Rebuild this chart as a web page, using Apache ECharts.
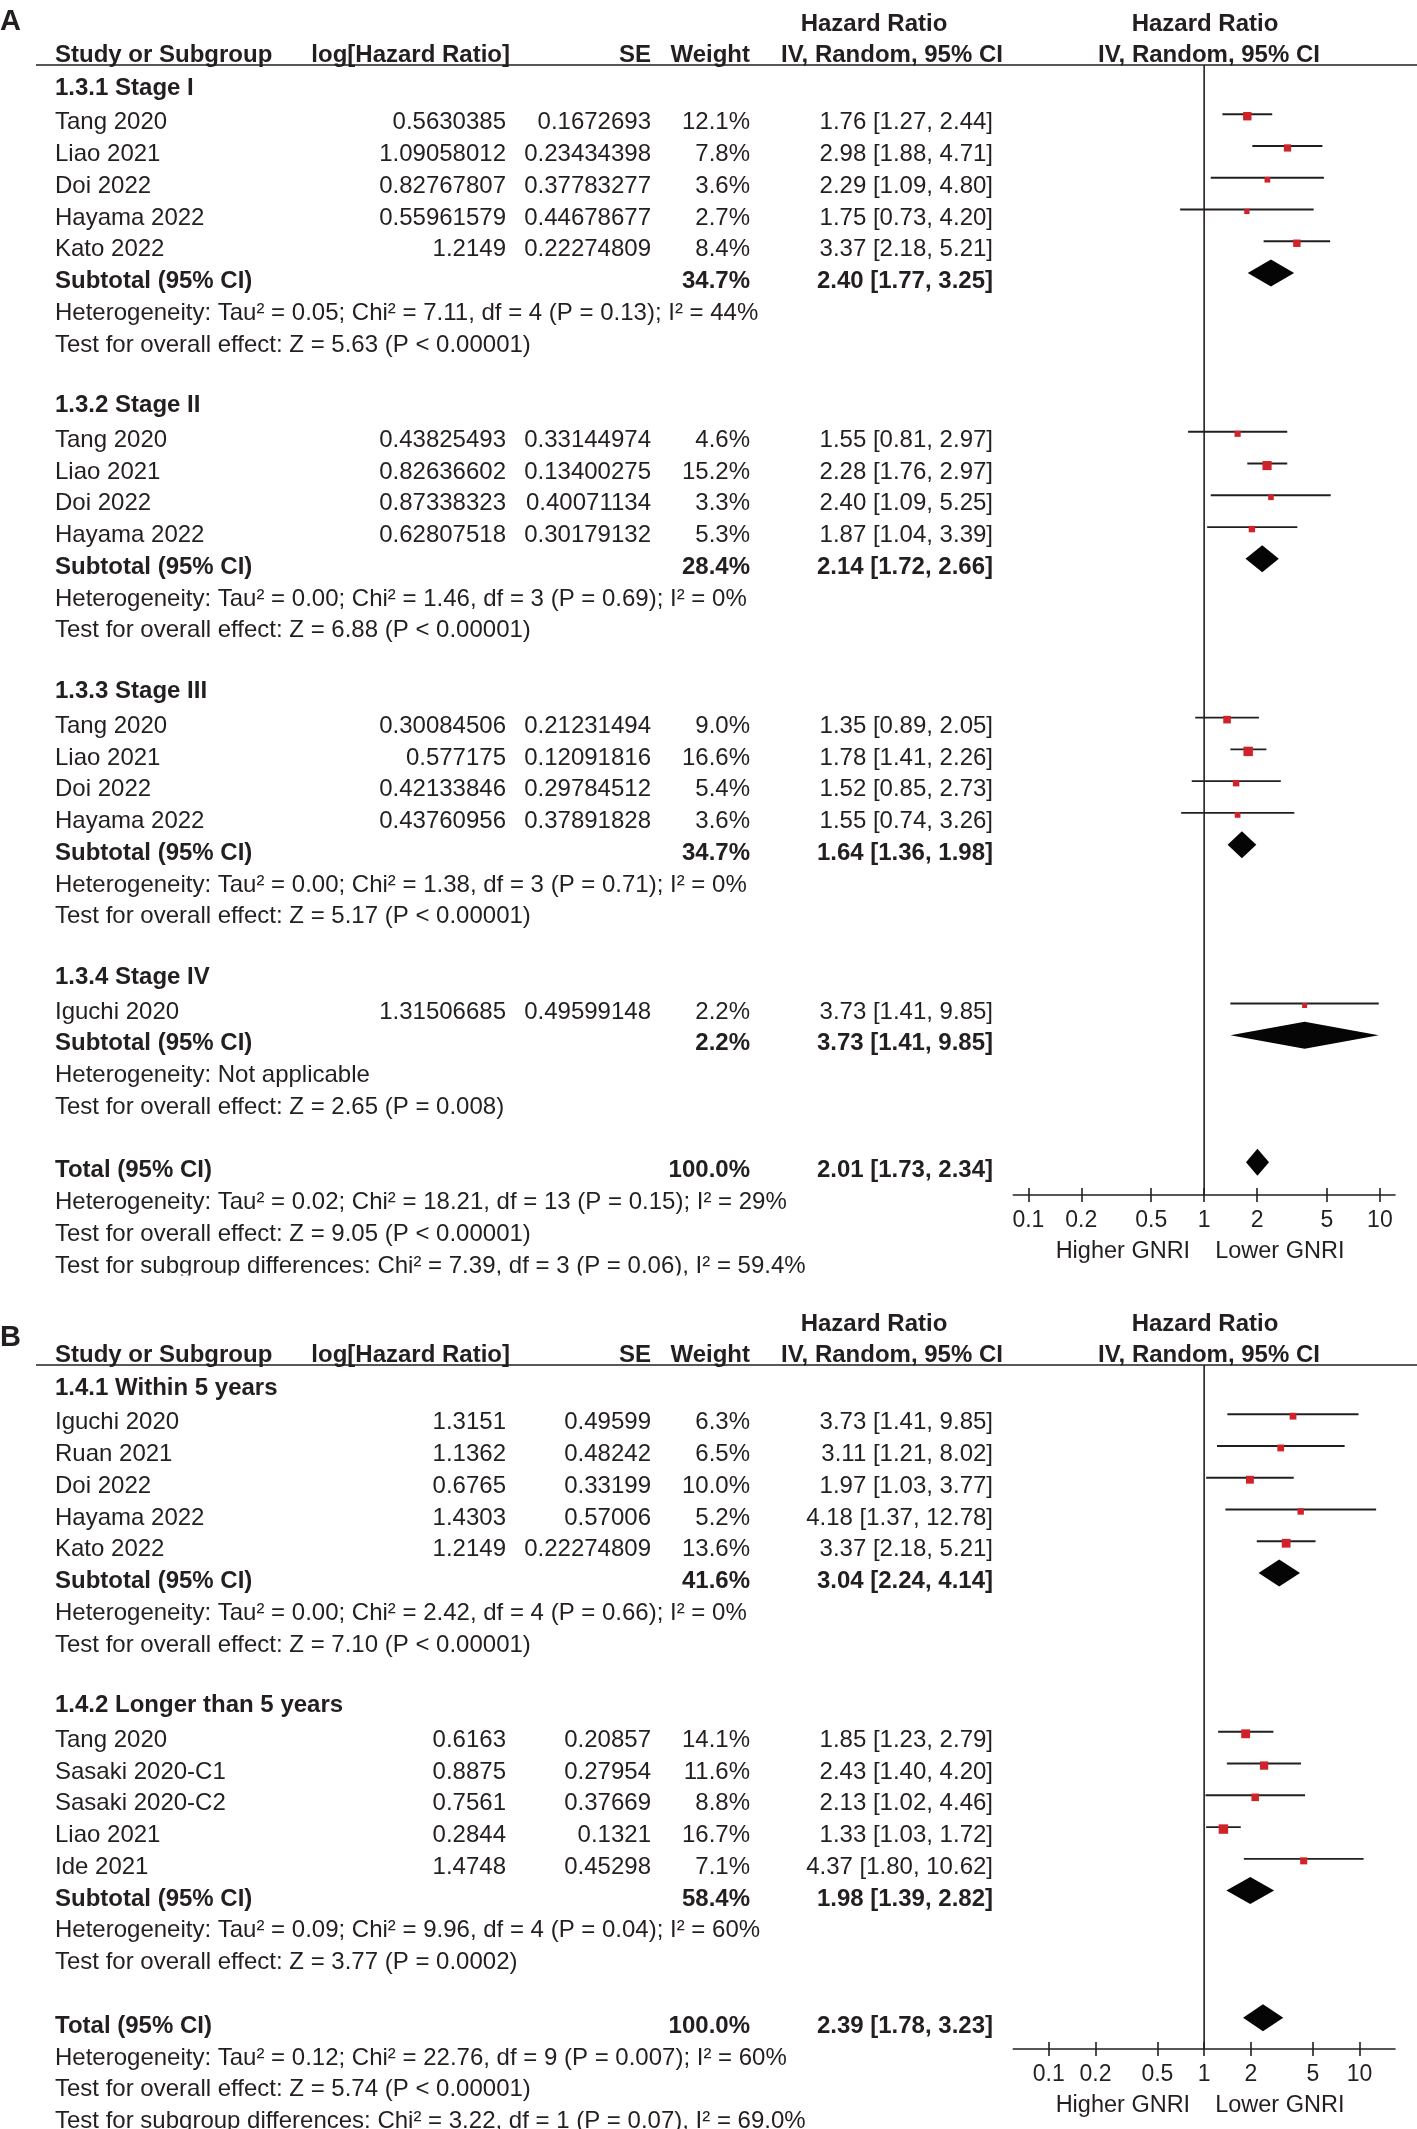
<!DOCTYPE html>
<html>
<head>
<meta charset="utf-8">
<script src="https://cdn.jsdelivr.net/npm/echarts@6/dist/echarts.min.js"></script>
<style>
html,body{margin:0;padding:0;background:#fff;}
#c{width:1417px;height:2129px;}
</style>
</head>
<body>
<div id="c"></div>
<script>
// ---------------- data ----------------
const tickValues = [0.1, 0.2, 0.5, 1, 2, 5, 10];
const tickLabels = ['0.1', '0.2', '0.5', '1', '2', '5', '10'];
const favourLabels = ['Higher GNRI', 'Lower GNRI'];
const headerTop = ['Hazard Ratio', 'Hazard Ratio'];
const headerCols = ['Study or Subgroup', 'log[Hazard Ratio]', 'SE', 'Weight', 'IV, Random, 95% CI', 'IV, Random, 95% CI'];
const panelLetters = ['A', 'B'];

// Panel A
const A_groups = ['1.3.1 Stage I', '1.3.2 Stage II', '1.3.3 Stage III', '1.3.4 Stage IV'];
const A_study = ['Tang 2020', 'Liao 2021', 'Doi 2022', 'Hayama 2022', 'Kato 2022',
                 'Tang 2020', 'Liao 2021', 'Doi 2022', 'Hayama 2022',
                 'Tang 2020', 'Liao 2021', 'Doi 2022', 'Hayama 2022',
                 'Iguchi 2020'];
const A_group = [0, 0, 0, 0, 0, 1, 1, 1, 1, 2, 2, 2, 2, 3];
const A_logHR = [0.5630385, 1.09058012, 0.82767807, 0.55961579, 1.2149,
                 0.43825493, 0.82636602, 0.87338323, 0.62807518,
                 0.30084506, 0.577175, 0.42133846, 0.43760956,
                 1.31506685];
const A_se = [0.1672693, 0.23434398, 0.37783277, 0.44678677, 0.22274809,
              0.33144974, 0.13400275, 0.40071134, 0.30179132,
              0.21231494, 0.12091816, 0.29784512, 0.37891828,
              0.49599148];
const A_weight = [12.1, 7.8, 3.6, 2.7, 8.4, 4.6, 15.2, 3.3, 5.3, 9.0, 16.6, 5.4, 3.6, 2.2];
const A_hr = [1.76, 2.98, 2.29, 1.75, 3.37, 1.55, 2.28, 2.40, 1.87, 1.35, 1.78, 1.52, 1.55, 3.73];
const A_lo = [1.27, 1.88, 1.09, 0.73, 2.18, 0.81, 1.76, 1.09, 1.04, 0.89, 1.41, 0.85, 0.74, 1.41];
const A_hi = [2.44, 4.71, 4.80, 4.20, 5.21, 2.97, 2.97, 5.25, 3.39, 2.05, 2.26, 2.73, 3.26, 9.85];
const A_subWeight = [34.7, 28.4, 34.7, 2.2];
const A_subHR = [2.40, 2.14, 1.64, 3.73];
const A_subLo = [1.77, 1.72, 1.36, 1.41];
const A_subHi = [3.25, 2.66, 1.98, 9.85];
const A_subHet = ['Tau² = 0.05; Chi² = 7.11, df = 4 (P = 0.13); I² = 44%',
                  'Tau² = 0.00; Chi² = 1.46, df = 3 (P = 0.69); I² = 0%',
                  'Tau² = 0.00; Chi² = 1.38, df = 3 (P = 0.71); I² = 0%',
                  'Not applicable'];
const A_subZ = ['Z = 5.63 (P < 0.00001)', 'Z = 6.88 (P < 0.00001)', 'Z = 5.17 (P < 0.00001)', 'Z = 2.65 (P = 0.008)'];
const A_total = [100.0, 2.01, 1.73, 2.34]; // weight, HR, lower, upper
const A_totalHet = 'Tau² = 0.02; Chi² = 18.21, df = 13 (P = 0.15); I² = 29%';
const A_totalZ = 'Z = 9.05 (P < 0.00001)';
const A_subDiff = 'Chi² = 7.39, df = 3 (P = 0.06), I² = 59.4%';

// Panel B
const B_groups = ['1.4.1 Within 5 years', '1.4.2 Longer than 5 years'];
const B_study = ['Iguchi 2020', 'Ruan 2021', 'Doi 2022', 'Hayama 2022', 'Kato 2022',
                 'Tang 2020', 'Sasaki 2020-C1', 'Sasaki 2020-C2', 'Liao 2021', 'Ide 2021'];
const B_group = [0, 0, 0, 0, 0, 1, 1, 1, 1, 1];
const B_logHR = [1.3151, 1.1362, 0.6765, 1.4303, 1.2149, 0.6163, 0.8875, 0.7561, 0.2844, 1.4748];
const B_se = [0.49599, 0.48242, 0.33199, 0.57006, 0.22274809, 0.20857, 0.27954, 0.37669, 0.1321, 0.45298];
const B_weight = [6.3, 6.5, 10.0, 5.2, 13.6, 14.1, 11.6, 8.8, 16.7, 7.1];
const B_hr = [3.73, 3.11, 1.97, 4.18, 3.37, 1.85, 2.43, 2.13, 1.33, 4.37];
const B_lo = [1.41, 1.21, 1.03, 1.37, 2.18, 1.23, 1.40, 1.02, 1.03, 1.80];
const B_hi = [9.85, 8.02, 3.77, 12.78, 5.21, 2.79, 4.20, 4.46, 1.72, 10.62];
const B_subWeight = [41.6, 58.4];
const B_subHR = [3.04, 1.98];
const B_subLo = [2.24, 1.39];
const B_subHi = [4.14, 2.82];
const B_subHet = ['Tau² = 0.00; Chi² = 2.42, df = 4 (P = 0.66); I² = 0%',
                  'Tau² = 0.09; Chi² = 9.96, df = 4 (P = 0.04); I² = 60%'];
const B_subZ = ['Z = 7.10 (P < 0.00001)', 'Z = 3.77 (P = 0.0002)'];
const B_total = [100.0, 2.39, 1.78, 3.23];
const B_totalHet = 'Tau² = 0.12; Chi² = 22.76, df = 9 (P = 0.007); I² = 60%';
const B_totalZ = 'Z = 5.74 (P < 0.00001)';
const B_subDiff = 'Chi² = 3.22, df = 1 (P = 0.07), I² = 69.0%';

// ---------------- layout / style ----------------
const FONT = '"Liberation Sans", Arial, Helvetica, sans-serif';
const FS = 24;
const INK = '#231f20';
const RED = '#cf2229';
const PITCH = 31.76;
const PLOT_L = 1013.3, PLOT_W = 381.7;
const COLX = { name: 55, logHR: 506, se: 651, weight: 750, ci: 993 };
const COLA = { name: 'left', logHR: 'right', se: 'right', weight: 'right', ci: 'right' };
const MARK_SHIFT = 8.5;

const panels = [
  { off: 0, axisY: 1195, half: 1.086, letterY: 22,
    d: { groups: A_groups, study: A_study, group: A_group, logHR: A_logHR, se: A_se, weight: A_weight,
         hr: A_hr, lo: A_lo, hi: A_hi, subW: A_subWeight, subHR: A_subHR, subLo: A_subLo, subHi: A_subHi,
         subHet: A_subHet, subZ: A_subZ, total: A_total, totalHet: A_totalHet, totalZ: A_totalZ, diff: A_subDiff } },
  { off: 1300, axisY: 2049, half: 1.228, letterY: 1338,
    d: { groups: B_groups, study: B_study, group: B_group, logHR: B_logHR, se: B_se, weight: B_weight,
         hr: B_hr, lo: B_lo, hi: B_hi, subW: B_subWeight, subHR: B_subHR, subLo: B_subLo, subHi: B_subHi,
         subHet: B_subHet, subZ: B_subZ, total: B_total, totalHet: B_totalHet, totalZ: B_totalZ, diff: B_subDiff } }
];

function ciText(h, l, u) { return h.toFixed(2) + ' [' + l.toFixed(2) + ', ' + u.toFixed(2) + ']'; }

function buildRows(d) {
  const rows = [];
  let r = 0;
  d.groups.forEach((g, gi) => {
    rows.push({ row: r++, kind: 'title', bold: true, cells: [[g, 'name']] });
    d.study.forEach((s, i) => {
      if (d.group[i] !== gi) return;
      rows.push({ row: r++, kind: 'study', cells: [[s, 'name'], [String(d.logHR[i]), 'logHR'], [String(d.se[i]), 'se'],
        [d.weight[i].toFixed(1) + '%', 'weight'], [ciText(d.hr[i], d.lo[i], d.hi[i]), 'ci']],
        mark: [Math.log10(d.lo[i]), Math.log10(d.hi[i]), Math.log10(d.hr[i]), 0, d.weight[i], 0] });
    });
    rows.push({ row: r++, kind: 'sub', bold: true, cells: [['Subtotal (95% CI)', 'name'], [d.subW[gi].toFixed(1) + '%', 'weight'],
      [ciText(d.subHR[gi], d.subLo[gi], d.subHi[gi]), 'ci']],
      mark: [Math.log10(d.subLo[gi]), Math.log10(d.subHi[gi]), Math.log10(d.subHR[gi]), 0, d.subW[gi], 1] });
    rows.push({ row: r++, kind: 'note', cells: [['Heterogeneity: ' + d.subHet[gi], 'name']] });
    rows.push({ row: r++, kind: 'note', cells: [['Test for overall effect: ' + d.subZ[gi], 'name']] });
    r++;
  });
  const t = d.total;
  rows.push({ row: r++, kind: 'total', bold: true, cells: [['Total (95% CI)', 'name'], [t[0].toFixed(1) + '%', 'weight'],
    [ciText(t[1], t[2], t[3]), 'ci']], mark: [Math.log10(t[2]), Math.log10(t[3]), Math.log10(t[1]), 0, t[0], 1] });
  rows.push({ row: r++, kind: 'note', cells: [['Heterogeneity: ' + d.totalHet, 'name']] });
  rows.push({ row: r++, kind: 'note', cells: [['Test for overall effect: ' + d.totalZ, 'name']] });
  rows.push({ row: r++, kind: 'note', cells: [['Test for subgroup differences: ' + d.diff, 'name']] });
  rows.forEach(x => { if (x.mark) x.mark[3] = x.row; });
  return rows;
}

function txt(text, x, y, align, bold, size) {
  return { type: 'text', x: x, y: y, silent: true, z: 10,
    style: { text: text, fill: INK, font: (bold ? 'bold ' : '') + (size || FS) + 'px ' + FONT,
             textAlign: align, textVerticalAlign: 'middle', align: align, verticalAlign: 'middle' } };
}

const grids = [], xAxes = [], yAxes = [], series = [], graphics = [];
const tickLog = tickValues.map(v => Math.log10(v));
function tickFmt(v) {
  let best = 0, bd = 1e9;
  tickLog.forEach((t, i) => { const dd = Math.abs(t - v); if (dd < bd) { bd = dd; best = i; } });
  return tickLabels[best];
}

panels.forEach((p, k) => {
  const rows = buildRows(p.d);
  const gridTop = p.off + 65;
  const row0 = p.off + 90.94;
  const yMin = (gridTop - row0) / PITCH;
  const yMax = (p.axisY - row0) / PITCH;
  grids.push({ left: PLOT_L, top: gridTop, width: PLOT_W, height: p.axisY - gridTop, containLabel: false, outerBoundsMode: 'none' });
  xAxes.push({
    gridIndex: k, type: 'value', min: -p.half, max: p.half, position: 'bottom',
    axisLine: { show: true, onZero: false, lineStyle: { color: INK, width: 1.6 } },
    axisTick: { show: true, customValues: tickLog, length: 7, inside: false, lineStyle: { color: INK, width: 1.6 } },
    axisLabel: { show: true, customValues: tickLog, formatter: tickFmt, margin: 14, color: INK, fontSize: 23, fontFamily: FONT },
    splitLine: { show: false }
  });
  xAxes.push({
    gridIndex: k, type: 'value', min: -p.half, max: p.half, position: 'bottom', offset: 0,
    axisLine: { show: false, onZero: false },
    axisTick: { show: true, customValues: tickLog, length: 7, inside: true, lineStyle: { color: INK, width: 1.6 } },
    axisLabel: { show: false }, splitLine: { show: false }
  });
  yAxes.push({ gridIndex: k, type: 'value', min: yMin, max: yMax, inverse: true, show: false,
               axisLine: { onZero: false }, splitLine: { show: false } });
  const xi = k * 2;

  // vertical line of no effect
  series.push({ type: 'line', xAxisIndex: xi, yAxisIndex: k, data: [[0, yMin], [0, yMax]], showSymbol: false, symbol: 'none',
                lineStyle: { color: INK, width: 1.6 }, silent: true, z: 3 });

  // CI lines, squares and diamonds
  series.push({
    type: 'custom', xAxisIndex: xi, yAxisIndex: k, clip: false, silent: true, z: 5,
    data: rows.filter(r => r.mark).map(r => r.mark),
    renderItem: function (params, api) {
      const yv = api.value(3);
      const lo = api.coord([api.value(0), yv]);
      const hi = api.coord([api.value(1), yv]);
      const c = api.coord([api.value(2), yv]);
      const y = c[1] - MARK_SHIFT;
      if (api.value(5) === 1) {
        return { type: 'polygon', shape: { points: [[lo[0], y], [c[0], y - 13.5], [hi[0], y], [c[0], y + 13.5]] },
                 style: { fill: '#050505' } };
      }
      const s = 2.5 + 1.7 * Math.sqrt(api.value(4));
      return { type: 'group', children: [
        { type: 'line', shape: { x1: lo[0], y1: y, x2: hi[0], y2: y }, style: { stroke: INK, lineWidth: 1.9 } },
        { type: 'rect', shape: { x: c[0] - s / 2, y: y + 2 - s / 2, width: s, height: s }, style: { fill: RED } }
      ] };
    }
  });

  // table text
  series.push({
    type: 'custom', xAxisIndex: xi, yAxisIndex: k, clip: false, silent: true, z: 6,
    data: rows.map(r => [0, r.row]),
    renderItem: function (params, api) {
      const row = rows[params.dataIndex];
      const y = api.coord([0, api.value(1)])[1] + (row.kind === 'title' ? -3 : 0);
      return { type: 'group', children: row.cells.map(c => txt(c[0], COLX[c[1]], y, COLA[c[1]], row.bold)) };
    }
  });

  // favour labels under the axis
  series.push({
    type: 'custom', xAxisIndex: xi, yAxisIndex: k, clip: false, silent: true, z: 6,
    data: [[0, yMax]],
    renderItem: function (params, api) {
      const c = api.coord([api.value(0), api.value(1)]);
      return { type: 'group', children: [
        txt(favourLabels[0], c[0] - 14, c[1] + 56.5, 'right', false, 23.5),
        txt(favourLabels[1], c[0] + 11, c[1] + 56.5, 'left', false, 23.5)
      ] };
    }
  });

  // headers
  const o = p.off;
  graphics.push(txt(panelLetters[k], 0, p.letterY, 'left', true, 29));
  graphics.push(txt(headerTop[0], 874, o + 24.4, 'center', true));
  graphics.push(txt(headerTop[1], 1205, o + 24.4, 'center', true));
  graphics.push(txt(headerCols[0], 55, o + 55, 'left', true));
  graphics.push(txt(headerCols[1], 510, o + 55, 'right', true));
  graphics.push(txt(headerCols[2], 651, o + 55, 'right', true));
  graphics.push(txt(headerCols[3], 750, o + 55, 'right', true));
  graphics.push(txt(headerCols[4], 892, o + 55, 'center', true));
  graphics.push(txt(headerCols[5], 1209, o + 55, 'center', true));
  graphics.push({ type: 'line', silent: true, z: 10, shape: { x1: 36, y1: o + 65, x2: 1417, y2: o + 65 },
                  style: { stroke: INK, lineWidth: 1.7 } });
});

// panel A image is cropped just below its last text line
graphics.push({ type: 'rect', silent: true, z: 100, shape: { x: 0, y: 1275.5, width: 1417, height: 24 }, style: { fill: '#ffffff' } });

const chart = echarts.init(document.getElementById('c'), null, { renderer: 'canvas' });
chart.setOption({
  backgroundColor: '#ffffff',
  animation: false,
  grid: grids,
  xAxis: xAxes,
  yAxis: yAxes,
  series: series,
  graphic: { elements: graphics }
});
</script>
</body>
</html>
